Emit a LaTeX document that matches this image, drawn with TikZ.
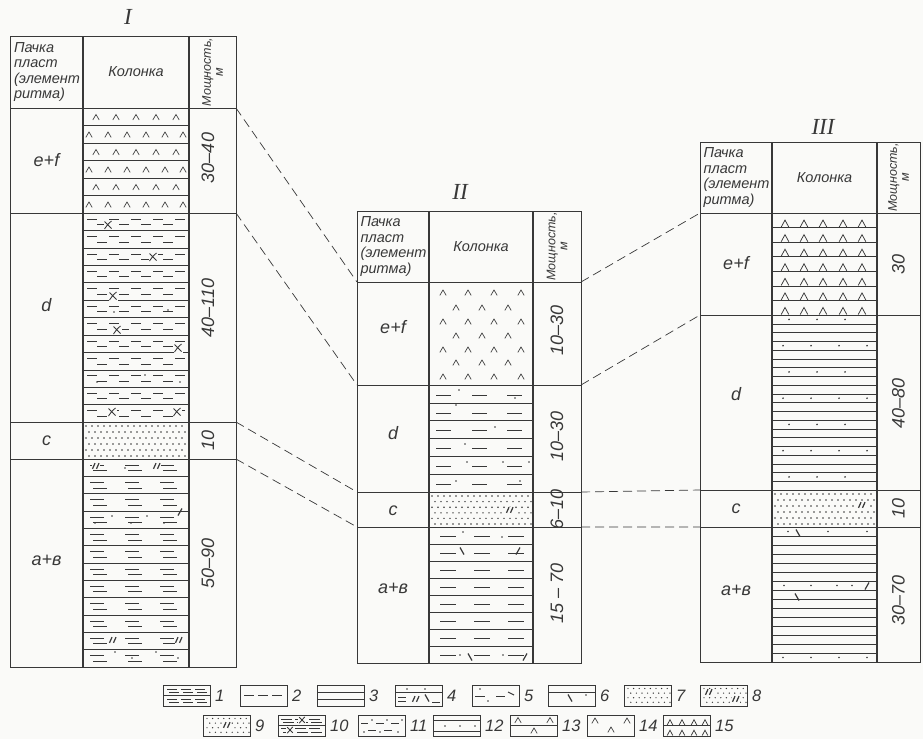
\documentclass[tikz,border=0pt]{standalone}
\usepackage{fontspec}
\newfontfamily\draft{Liberation Sans}
\newfontfamily\romfont{Liberation Serif}
\definecolor{ink}{HTML}{383838}
\definecolor{paper}{HTML}{FAFAF8}

\begin{document}
\begin{tikzpicture}[x=1pt,y=-1pt,
    frame/.style={draw=ink,line width=.7pt},
    colline/.style={draw=ink,line width=1.6pt},
    band/.style={draw=ink,line width=.5pt},
    glyph/.style={draw=ink,line width=.65pt},
    link/.style={draw=ink,line width=.7pt,dash pattern=on 9pt off 5pt},
    hd/.style={font=\draft\itshape\fontsize{14.5}{15.5}\selectfont,text=ink,align=left,inner sep=0pt},
    thh/.style={font=\draft\itshape\fontsize{12.5}{12}\selectfont,text=ink,align=center,inner sep=0pt,rotate=90},
    lab/.style={font=\draft\itshape\fontsize{18}{18}\selectfont,text=ink,inner sep=0pt},
    thk/.style={lab,rotate=90},
    num/.style={font=\draft\itshape\fontsize{16.5}{16}\selectfont,text=ink,anchor=west,inner sep=0pt},
    rom/.style={font=\romfont\itshape\fontsize{23}{23}\selectfont,text=ink,inner sep=0pt},
    caret/.pic={\draw[glyph] (-3.2,2.4) -- (0,-3) -- (3.2,2.4);},
    tri/.pic={\draw[glyph,line width=.75pt] (-3.8,0) -- (0,-7) -- (3.8,0);},
    xmk/.pic={\fill[paper] (-4.5,-4.5) rectangle (4.5,4.5);
              \draw[glyph,line width=.85pt] (-3.5,-3.5) -- (3.5,3.5) (3.5,-4) .. controls (0,-1) .. (-3.5,4);},
    dbl/.pic={\fill[paper] (-4,-3.5) rectangle (4,3.5);
              \draw[glyph,line width=1.2pt] (-3.5,2.8) -- (-1,-2.8) (0.5,2.8) -- (3,-2.8);},
    bsl/.pic={\draw[glyph,line width=1.2pt] (-2,-3.5) -- (2,3.5);},
    fsl/.pic={\draw[glyph,line width=1.2pt] (-2,3.5) -- (2,-3.5);},
    pt/.pic={\fill[ink] (0,0) circle (0.9pt);}
]
\fill[paper] (0,0) rectangle (923,739);
\useasboundingbox (0,0) rectangle (923,739);

% ---------- column I ----------
\foreach \k in {1,...,5} \draw[band] (83,108+\k*17.5) -- (189,108+\k*17.5);
\foreach \k in {0,2,4} \foreach \x in {96,116,136,156,176} \pic at (\x,108+\k*17.5+9.5) {caret};
\foreach \k in {1,3,5} \foreach \x in {89,108,127,146,165,183} \pic at (\x,108+\k*17.5+9.5) {caret};
\foreach \k in {0,...,11} {
  \draw[band] (83,213+\k*17.42) -- (189,213+\k*17.42);
  \foreach \x in {87,109,131,153,175} \draw[glyph] (\x,219+\k*17.42) -- ++(10,0);
  \foreach \x in {97,119,141,163} \draw[glyph] (\x,224.5+\k*17.42) -- ++(10,0);
}
\foreach \p in {(108,225),(153,257),(113,296),(117,330),(178,348),(112,412),(177,412)} \pic at \p {xmk};
\foreach \p in {(114,312),(168,310),(145,375),(97,382),(180,382)} \pic at \p {pt};
\foreach \k in {0,...,11} {
  \draw[band] (83,459+\k*17.33) -- (189,459+\k*17.33);
  \foreach \x in {90,125,160} \draw[glyph] (\x,465+\k*17.33) -- ++(14,0) (\x+3,470.5+\k*17.33) -- ++(14,0);
}
\foreach \p in {(96,466),(157,466),(113,640),(179,640)} \pic at \p {dbl};
\pic at (180,512) {fsl};
\foreach \p in {(125,468),(112,516),(147,516),(95,523),(131,523),(164,523),(115,652),(156,652),(132,658),(178,658)} \pic at \p {pt};

% ---------- column II ----------
\foreach \y in {293,322,350,377} \foreach \x in {443,468,494,521} \pic at (\x,\y) {caret};
\foreach \y in {308,336,363} \foreach \x in {456,482,508} \pic at (\x,\y) {caret};
\foreach \k in {0,...,5} {
  \draw[band] (429,385+\k*17.83) -- (533,385+\k*17.83);
  \foreach \x in {436,472,507} \draw[glyph] (\x,395+\k*17.83) -- ++(15,0);
}
\foreach \p in {(459,390),(456,405),(515,398),(495,427),(465,444),(467,462),(503,462),(529,462),(456,481),(520,481)} \pic at \p {pt};
\foreach \k in {0,...,7} {
  \draw[band] (429,527+\k*17) -- (533,527+\k*17);
  \foreach \x in {440,474,508} \draw[glyph] (\x,536+\k*17) -- ++(16,0);
}
\foreach \p in {(462,551),(470,657)} \pic at \p {bsl};
\foreach \p in {(518,551),(525,657)} \pic at \p {fsl};
\foreach \p in {(463,532),(502,537),(460,655),(503,655)} \pic at \p {pt};

% ---------- column III ----------
\foreach \k in {1,...,7} {
  \draw[band] (772,213+\k*14.57) -- (877,213+\k*14.57);
  \foreach \x in {785,804,823,843,862} \pic at (\x,212.5+\k*14.57) {tri};
}
\foreach \k in {1,...,19} \draw[band] (772,315+\k*8.75) -- (877,315+\k*8.75);
\foreach \k in {0,6,12,18} \foreach \x in {789,817,845} \pic at (\x,319.4+\k*8.75) {pt};
\foreach \k in {3,9,15} \foreach \x in {783,811,839,867} \pic at (\x,319.4+\k*8.75) {pt};
\foreach \k in {1,...,14} \draw[band] (772,527+\k*9) -- (877,527+\k*9);
\foreach \p in {(788,531.5),(828,531.5),(867,531.5),(784,585.5),(811,585.5),(837,585.5),(852,585.5),
                (783,657.5),(811,657.5),(839,657.5),(867,657.5)} \pic at \p {pt};
\foreach \p in {(798,533),(797,597)} \pic at \p {bsl};
\pic at (867,586) {fsl};

% sand layers
\foreach \px/\py/\dy in {86/426/6, 432/496/5.6, 775/494/6} {
  \foreach \r in {0,...,5} \foreach \c in {0,...,16}
    \fill[ink] ({\px+\c*6+mod(\r,2)*3},{\py+\r*\dy}) circle (0.8pt);
}
\pic at (510,510) {dbl};
\pic at (862,505) {dbl};

% ---------- frames ----------
\foreach \L/\A/\B/\R/\T/\H/\E/\D/\C/\Bo in {10/83/189/236/36/108/213/422/459/667,
    357/429/533/581/211/282/385/492/527/663, 700/772/877/920/142/213/315/490/527/662} {
  \draw[frame] (\L,\T) rectangle (\R,\Bo);
  \foreach \y in {\H,\E,\D,\C} \draw[frame] (\L,\y) -- (\R,\y);
  \draw[colline] (\A,\T) -- (\A,\Bo) (\B,\T) -- (\B,\Bo);
}

% ---------- headings ----------
\node[rom] (I) at (128,17) {I};
\node[rom] (II) at (460,192) {II};
\node[rom] (III) at (823,127) {III};

\node[hd] (I-pack) at (47,72) {Пачка\\пласт\\(элемент\\ритма)};
\node[hd] (I-colh) at (136,72) {Колонка};
\node[thh] (I-thh) at (212.5,72) {Мощность,\\м};
\node[hd] (II-pack) at (393.5,246.5) {Пачка\\пласт\\(элемент\\ритма)};
\node[hd] (II-colh) at (481,246.5) {Колонка};
\node[thh] (II-thh) at (557,246.5) {Мощность,\\м};
\node[hd] (III-pack) at (736.5,177.5) {Пачка\\пласт\\(элемент\\ритма)};
\node[hd] (III-colh) at (824.5,177.5) {Колонка};
\node[thh] (III-thh) at (898.5,177.5) {Мощность,\\м};

% ---------- layer names and thickness ----------
\node[lab] (I-ef) at (46.5,160) {e+f};
\node[lab] (I-d) at (46.5,305) {d};
\node[lab] (I-c) at (46.5,441) {c};
\node[lab] (I-ab) at (46.5,560) {a+в};
\node[thk] (I-t1) at (208,158) {30–40};
\node[thk] (I-t2) at (208,308) {40–110};
\node[thk] (I-t3) at (208,440) {10};
\node[thk] (I-t4) at (208,563) {50–90};

\node[lab] (II-ef) at (393,327) {e+f};
\node[lab] (II-d) at (393,433) {d};
\node[lab] (II-c) at (393,511) {c};
\node[lab] (II-ab) at (393,588) {a+в};
\node[thk] (II-t1) at (557,330) {10–30};
\node[thk] (II-t2) at (557,436) {10–30};
\node[thk] (II-t3) at (557,509) {6–10};
\node[thk] (II-t4) at (557,593) {15 – 70};

\node[lab] (III-ef) at (736,263) {e+f};
\node[lab] (III-d) at (736,394) {d};
\node[lab] (III-c) at (736,509) {c};
\node[lab] (III-ab) at (736,590) {a+в};
\node[thk] (III-t1) at (898.5,264) {30};
\node[thk] (III-t2) at (898.5,403) {40–80};
\node[thk] (III-t3) at (898.5,508) {10};
\node[thk] (III-t4) at (898.5,600) {30–70};

% ---------- correlation lines ----------
\coordinate (I-1) at (236,108);   \coordinate (IIa-1) at (357,282);
\coordinate (I-2) at (236,213);   \coordinate (IIa-2) at (357,385);
\coordinate (I-3) at (236,422);   \coordinate (IIa-3) at (357,492);
\coordinate (I-4) at (236,459);   \coordinate (IIa-4) at (357,527);
\coordinate (IIb-1) at (581,282); \coordinate (III-1) at (700,213);
\coordinate (IIb-2) at (581,385); \coordinate (III-2) at (700,315);
\coordinate (IIb-3) at (581,492); \coordinate (III-3) at (700,490);
\coordinate (IIb-4) at (581,527); \coordinate (III-4) at (700,527);
\foreach \i in {1,...,4} \draw[link] (I-\i) -- (IIa-\i) (IIb-\i) -- (III-\i);

% ---------- legend ----------
\foreach \n/\x/\y in {1/163/685, 2/240/685, 3/317/685, 4/395/685, 5/472/685, 6/548/685, 7/624/685, 8/700/685,
    9/203/715, 10/278/715, 11/358/715, 12/433/715, 13/510/715, 14/587/715, 15/663/715} {
  \draw[frame] (\x,\y) rectangle ++(47,21);
  \node[num] (n\n) at (\x+52,\y+11) {\n};
}
\foreach \px/\py in {624/685, 700/685, 203/715} {
  \foreach \r in {0,...,3} \foreach \c in {0,...,7}
    \fill[ink] ({\px+4+\c*5.6+mod(\r,2)*2.8},{\py+3.5+\r*4.6}) circle (0.7pt);
}
\begin{scope}[shift={(163,685)}]
  \draw[band] (0,10.5) -- (47,10.5);
  \foreach \x in {4,18,32} \draw[glyph] (\x,4) -- ++(10,0) (\x+2,7) -- ++(10,0);
  \foreach \x in {4,18,32} \draw[glyph,line width=1.1pt] (\x,14.5) -- ++(10,0) (\x+2,17.5) -- ++(10,0);
\end{scope}
\begin{scope}[shift={(240,685)}]
  \foreach \x in {4,18,32} \draw[glyph] (\x,10.5) -- ++(10,0);
\end{scope}
\begin{scope}[shift={(317,685)}]
  \draw[band] (0,7) -- (47,7) (0,14) -- (47,14);
\end{scope}
\begin{scope}[shift={(395,685)}]
  \draw[band] (0,7.5) -- (47,7.5);
  \foreach \p in {(12,4),(30,4)} \pic at \p {pt};
  \draw[glyph] (3,12) -- (11,12) (3,16) -- (11,16) (37,17) -- (45,17);
  \pic at (21,14) {dbl};
  \pic at (32,13) {bsl};
\end{scope}
\begin{scope}[shift={(472,685)}]
  \foreach \p in {(8,4),(16,16)} \pic at \p {pt};
  \draw[glyph] (3,11) -- (13,11) (24,11) -- (33,11);
  \draw[glyph,line width=1.1pt] (36,7) -- (42,10);
\end{scope}
\begin{scope}[shift={(548,685)}]
  \draw[band] (0,7) -- (47,7);
  \pic at (22,13) {bsl};
  \pic at (38,10) {pt};
\end{scope}
\begin{scope}[shift={(700,685)}]
  \pic at (9,7) {dbl};
  \pic at (36,14) {dbl};
\end{scope}
\begin{scope}[shift={(203,715)}]
  \pic at (24,10) {dbl};
\end{scope}
\begin{scope}[shift={(278,715)}]
  \draw[band] (0,10) -- (47,10);
  \foreach \x in {3,17,31} \draw[glyph] (\x,4) -- ++(11,0) (\x+2,7) -- ++(11,0) (\x,13.5) -- ++(11,0) (\x+2,17) -- ++(11,0);
  \pic[scale=.8] at (24,5) {xmk};
  \pic[scale=.8] at (12,15) {xmk};
\end{scope}
\begin{scope}[shift={(358,715)}]
  \draw[glyph] (3,8) -- (10,8) (18,8) -- (26,8) (33,8) -- (41,8) (10,15) -- (18,15) (26,15) -- (34,15);
  \foreach \p in {(14,5),(29,5),(44,5),(6,17),(22,17),(40,17)} \pic at \p {pt};
\end{scope}
\begin{scope}[shift={(433,715)}]
  \draw[band] (0,5) -- (47,5) (0,16) -- (47,16);
  \foreach \x in {12,27,42} \pic at (\x,11) {pt};
\end{scope}
\begin{scope}[shift={(510,715)}]
  \draw[band] (0,10) -- (47,10);
  \foreach \p in {(8,5.5),(40,5.5),(24,16)} \pic at \p {caret};
\end{scope}
\begin{scope}[shift={(587,715)}]
  \foreach \p in {(8,6),(40,6),(24,15)} \pic at \p {caret};
\end{scope}
\begin{scope}[shift={(663,715)}]
  \draw[band] (0,10) -- (47,10);
  \foreach \x in {7,19,31,42} \pic[scale=.75] at (\x,10) {tri};
  \foreach \x in {7,19,31,42} \pic[scale=.75] at (\x,20.5) {tri};
\end{scope}
\end{tikzpicture}
\end{document}
